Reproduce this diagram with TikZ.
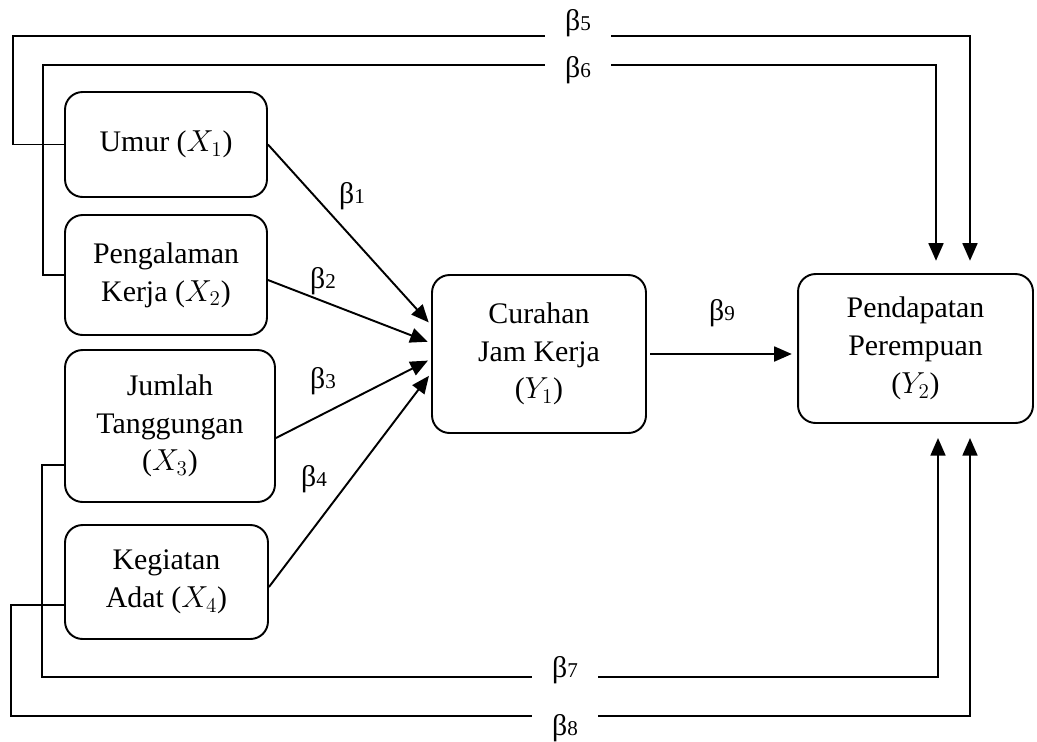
\documentclass[tikz,border=0pt]{standalone}
\usepackage{fontspec}
\setmainfont{Liberation Serif}
\usepackage{tikz}
\usetikzlibrary{arrows.meta,positioning}
\tikzstyle{vbox}=[draw,rounded corners=10pt,align=center,inner sep=0pt,line width=1.1pt,font=\fontsize{17}{21.5}\selectfont]
\tikzstyle{blabel}=[font=\fontsize{17}{20}\selectfont,inner sep=0pt]
\tikzstyle{gaplabel}=[blabel,fill=white,minimum width=1.32cm,minimum height=1.1cm]
\tikzstyle{arr}=[->,>={Triangle[length=10pt,width=8.5pt]},line width=1.1pt]
\newcommand{\bet}[1]{β{\fontsize{12}{12}\selectfont #1}}

\begin{document}
\begin{tikzpicture}[x=0.02cm,y=-0.02cm]

  \useasboundingbox (0,0) rectangle (1037,741);

  \node[vbox,minimum width=4.04cm,minimum height=2.1cm] (umur) at (166,144.5) {Umur ($X_1$)};
  \node[vbox,minimum width=4.04cm,minimum height=2.4cm] (kerja) at (166,275) {Pengalaman\\Kerja ($X_2$)};
  \node[vbox,minimum width=4.2cm,minimum height=3.04cm] (tanggungan) at (170,426) {Jumlah\\Tanggungan\\($X_3$)};
  \node[vbox,minimum width=4.06cm,minimum height=2.28cm] (adat) at (166.5,582) {Kegiatan\\Adat ($X_4$)};
  \node[vbox,minimum width=4.28cm,minimum height=3.16cm] (curahan) at (539,354) {Curahan\\Jam Kerja\\($Y_1$)};
  \node[vbox,minimum width=4.7cm,minimum height=2.98cm] (pendapatan) at (915.5,348.5) {Pendapatan\\Perempuan\\($Y_2$)};

  \draw[arr,shorten >=2pt] (umur.east) to ([yshift=0.58cm]curahan.west);
  \draw[arr,shorten >=2pt] ([yshift=-0.1cm]kerja.east) to ([yshift=0.22cm]curahan.west);
  \draw[arr,shorten >=2pt] ([yshift=-0.24cm]tanggungan.east) to ([yshift=-0.1cm]curahan.west);
  \draw[arr,shorten >=2pt] ([yshift=-0.1cm]adat.east) to ([yshift=-0.38cm]curahan.west);
  \draw[arr,shorten <=2pt,shorten >=3pt] (curahan.east) to (curahan.east -| pendapatan.west);

  % paths round the boxes
  \draw[arr,shorten >=7pt] (umur.west) -| (13,36) -| ([xshift=1.09cm]pendapatan.north);
  \draw[arr,shorten >=7pt] (kerja.west) -| (43,65) -| ([xshift=0.41cm]pendapatan.north);
  \draw[arr,shorten >=8pt] ([yshift=-0.78cm]tanggungan.west) -| (42,677) -| ([xshift=0.45cm]pendapatan.south);
  \draw[arr,shorten >=8pt] ([yshift=-0.46cm]adat.west) -| (11,716) -| ([xshift=1.09cm]pendapatan.south);

  \node[blabel] (b1) at (352,196) {\bet{1}};
  \node[blabel] (b2) at (323,281) {\bet{2}};
  \node[blabel] (b3) at (323,381) {\bet{3}};
  \node[blabel] (b4) at (314,479) {\bet{4}};
  \node[gaplabel] (b5) at (578,23) {\bet{5}};
  \node[gaplabel] (b6) at (578,70) {\bet{6}};
  \node[gaplabel] (b7) at (565,670) {\bet{7}};
  \node[gaplabel] (b8) at (565,728) {\bet{8}};
  \node[blabel] (b9) at (722,313) {\bet{9}};

\end{tikzpicture}
\end{document}
